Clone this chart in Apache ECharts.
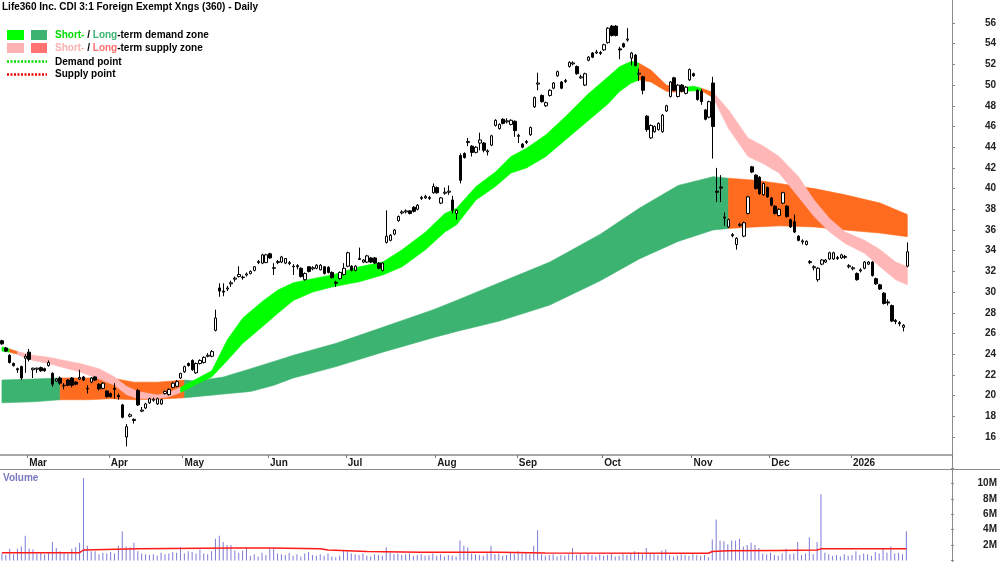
<!DOCTYPE html>
<html>
<head>
<meta charset="utf-8">
<title>Life360 Inc. CDI 3:1 Foreign Exempt Xngs (360) - Daily</title>
<script src="https://cdn.jsdelivr.net/npm/echarts@6/dist/echarts.min.js"></script>
<style>
  html, body { margin: 0; padding: 0; background: #fff; }
  #chart { width: 1000px; height: 562px; }
</style>
</head>
<body>
<div id="chart"></div>
<script>
// ---- data ----
var holidays = ['2025-04-18', '2025-04-21', '2025-04-25', '2025-06-09',
  '2025-12-25', '2025-12-26', '2026-01-01', '2026-01-26'];
var monthNames = ['Jan', 'Feb', 'Mar', 'Apr', 'May', 'Jun', 'Jul', 'Aug', 'Sep', 'Oct', 'Nov', 'Dec'];

var opens = [
  25.3, 24.6, 23.9, 23.1, 22.6, 22.8, 23.6, 24.2, 22.5, 22.55,
  22.7, 22.6, 22.9, 22.15, 21.4, 21.7, 21.0, 21.5, 21.7, 21.3,
  21.6, 21.8, 20.7, 21.3, 21.8, 21.1, 20.7, 20.45, 20.2, 20.7,
  20.0, 19.1, 16.0, 18.0, 17.7, 20.5, 18.5, 18.8, 19.3, 19.55,
  19.2, 19.2, 20.2, 20.1, 20.8, 20.9, 21.7, 22.3, 23.1, 23.4,
  22.2, 23.1, 23.2, 23.8, 23.8, 26.3, 30.4, 30.1, 30.3, 30.8,
  31.25, 31.5, 31.45, 31.65, 31.8, 32.1, 32.85, 32.8, 32.85, 33.7,
  32.35, 32.85, 32.9, 32.8, 32.75, 32.5, 32.55, 32.3, 31.2, 32.45,
  32.25, 32.3, 32.15, 32.45, 32.4, 31.9, 30.95, 31.3, 31.7, 32.5,
  32.5, 32.1, 33.15, 32.9, 32.9, 33.3, 33.3, 32.8, 32.1, 34.8,
  35.0, 35.6, 36.9, 37.65, 37.75, 37.85, 38.2, 38.0, 39.05, 39.1,
  39.05, 39.6, 40.1, 38.6, 39.55, 39.65, 38.9, 37.6, 43.2, 43.4,
  44.45, 44.1, 43.5, 44.4, 44.4, 43.55, 44.2, 46.1, 45.8, 46.7,
  46.45, 46.2, 46.5, 45.05, 44.3, 44.45, 45.2, 47.9, 50.1, 49.0,
  48.0, 49.0, 49.7, 50.9, 50.3, 50.35, 51.8, 52.05, 51.8, 50.7,
  50.0, 52.4, 53.1, 53.1, 53.05, 53.4, 54.1, 55.7, 55.7, 53.5,
  54.0, 54.35, 52.6, 52.9, 51.05, 50.8, 47.0, 44.9, 45.5, 45.7,
  45.5, 47.5, 48.9, 50.7, 48.9, 50.0, 49.2, 50.5, 51.1, 49.5,
  49.4, 47.6, 46.9, 50.2, 39.75, 40.15, 37.25, 36.3, 35.55, 34.6,
  36.45, 35.4, 37.6, 42.1, 41.3, 41.1, 39.4, 40.1, 39.1, 38.3,
  37.4, 38.6, 38.3, 37.0, 36.8, 35.4, 34.85, 34.6, 32.85, 32.35,
  31.2, 32.7, 32.9, 33.2, 33.2, 33.25, 33.3, 33.35, 32.45, 32.25,
  31.8, 32.05, 32.3, 32.7, 32.9, 31.3, 30.7, 29.9, 29.05, 28.7,
  27.25, 27.05, 26.6, 32.5
];
var closes = [
  25.0, 24.3, 23.2, 22.9, 22.5, 21.7, 23.8, 23.5, 22.65, 22.65,
  22.4, 22.4, 23.2, 21.1, 21.6, 21.2, 20.95, 21.0, 21.0, 21.1,
  21.75, 21.5, 20.65, 21.7, 21.5, 20.65, 21.2, 19.9, 19.9, 20.6,
  19.9, 17.9, 17.0, 18.15, 17.6, 19.1, 18.6, 19.2, 19.7, 19.65,
  19.7, 19.6, 20.4, 20.6, 21.2, 21.35, 22.15, 22.8, 22.9, 22.5,
  23.1, 23.4, 23.7, 23.9, 24.25, 27.5, 30.1, 30.0, 30.4, 30.9,
  31.35, 31.7, 31.4, 31.75, 32.0, 32.45, 32.95, 33.6, 33.6, 33.3,
  32.3, 32.95, 33.4, 33.25, 32.85, 32.45, 32.45, 31.5, 31.8, 32.0,
  32.35, 32.6, 32.6, 31.8, 31.9, 31.4, 30.85, 31.9, 32.3, 33.8,
  32.1, 32.5, 33.25, 33.1, 33.5, 32.9, 32.8, 32.3, 32.8, 35.4,
  35.5, 36.0, 37.3, 37.75, 37.85, 37.6, 37.8, 38.4, 39.15, 39.25,
  39.15, 40.2, 39.6, 39.1, 39.65, 39.75, 37.9, 37.9, 40.8, 43.0,
  44.55, 43.5, 44.0, 44.7, 43.7, 43.65, 45.1, 46.6, 46.2, 46.3,
  46.55, 46.6, 45.6, 45.15, 44.0, 44.55, 45.9, 48.8, 50.2, 48.4,
  48.3, 49.5, 50.2, 51.3, 49.7, 50.45, 52.2, 52.15, 51.1, 50.8,
  51.1, 52.7, 52.7, 53.2, 53.15, 53.9, 55.5, 54.8, 54.8, 53.4,
  53.7, 54.45, 53.1, 51.9, 51.15, 49.5, 45.7, 46.1, 46.0, 46.3,
  47.1, 48.0, 50.3, 49.5, 50.0, 49.4, 49.8, 51.5, 50.9, 48.6,
  48.4, 46.7, 48.4, 46.0, 39.65, 40.05, 37.15, 37.0, 35.45, 35.2,
  36.55, 36.7, 39.2, 41.6, 40.0, 39.5, 40.5, 39.2, 38.4, 37.6,
  38.0, 39.6, 37.3, 36.3, 35.8, 35.0, 34.95, 34.9, 32.95, 32.45,
  32.3, 33.1, 33.1, 33.8, 33.8, 33.35, 33.6, 33.45, 32.55, 32.35,
  31.2, 32.15, 32.9, 32.9, 31.6, 30.8, 30.3, 28.9, 28.95, 27.2,
  27.15, 26.95, 26.8, 33.9
];
var highs = [
  25.4, 24.7, 24.0, 23.2, 22.7, 22.9, 24.0, 24.5, 22.7, 22.7,
  22.8, 22.7, 23.4, 22.25, 21.7, 21.85, 21.2, 21.6, 21.8, 21.4,
  22.5, 21.9, 21.0, 21.8, 21.9, 21.2, 21.3, 20.5, 20.3, 21.2,
  20.2, 19.2, 17.25, 18.3, 17.8, 20.65, 18.9, 19.3, 19.8, 19.8,
  19.8, 19.7, 20.5, 20.7, 21.3, 21.5, 22.2, 22.9, 23.2, 23.5,
  23.2, 23.5, 23.8, 24.1, 24.4, 28.3, 30.85, 30.85, 30.6, 31.1,
  31.5, 32.5, 31.6, 31.9, 32.1, 32.5, 33.1, 33.7, 33.7, 33.8,
  32.8, 33.1, 33.5, 33.3, 33.0, 32.7, 32.7, 32.4, 31.9, 32.5,
  32.5, 32.7, 32.7, 32.5, 32.5, 32.0, 31.1, 32.0, 32.8, 33.9,
  32.6, 32.6, 34.3, 33.2, 33.6, 33.4, 33.4, 32.9, 32.9, 37.9,
  35.6, 36.1, 37.4, 37.9, 38.0, 37.9, 38.3, 38.5, 39.3, 39.4,
  39.3, 40.5, 40.2, 39.2, 40.1, 40.3, 39.3, 38.0, 43.4, 43.5,
  44.9, 44.2, 44.1, 45.4, 44.5, 43.8, 45.2, 46.7, 46.3, 46.8,
  46.8, 46.7, 46.6, 45.3, 44.4, 44.7, 46.0, 48.9, 51.2, 49.1,
  48.4, 49.6, 50.3, 51.4, 50.4, 50.6, 52.3, 52.3, 51.9, 51.0,
  51.2, 52.8, 53.2, 53.4, 53.3, 54.0, 55.6, 55.8, 55.8, 53.7,
  54.1, 55.5, 53.2, 53.0, 51.6, 50.9, 47.1, 46.2, 46.1, 46.4,
  47.2, 48.1, 50.4, 50.8, 50.1, 50.1, 49.9, 51.6, 51.2, 49.6,
  49.6, 47.7, 48.5, 50.8, 42.0, 41.3, 37.7, 37.1, 35.7, 35.3,
  36.7, 36.8, 39.3, 42.2, 41.4, 41.2, 40.6, 40.2, 39.2, 38.4,
  38.1, 39.7, 38.4, 37.1, 37.5, 35.5, 35.1, 35.0, 33.1, 32.6,
  32.4, 33.2, 33.2, 33.9, 33.9, 33.5, 33.7, 33.6, 32.7, 32.5,
  31.9, 32.3, 33.0, 33.0, 33.0, 31.4, 30.8, 30.0, 29.3, 28.8,
  27.4, 27.2, 26.9, 34.8
];
var lows = [
  24.9, 24.2, 23.1, 22.8, 22.2, 21.5, 22.2, 23.3, 21.7, 22.2,
  22.3, 22.3, 22.8, 20.85, 21.3, 21.05, 20.6, 20.9, 20.8, 21.0,
  21.5, 21.4, 20.2, 21.2, 21.4, 20.5, 20.6, 19.8, 19.8, 19.7,
  19.6, 17.8, 15.1, 17.9, 17.3, 19.0, 18.4, 18.7, 19.2, 19.4,
  19.1, 19.1, 20.1, 20.0, 20.7, 20.8, 21.6, 22.2, 22.8, 22.4,
  22.1, 23.0, 23.1, 23.7, 23.7, 26.2, 29.55, 29.6, 30.1, 30.5,
  31.0, 31.4, 31.2, 31.5, 31.7, 32.0, 32.7, 32.7, 32.8, 33.2,
  31.65, 32.7, 32.8, 32.7, 32.6, 31.65, 32.2, 31.4, 31.1, 31.9,
  32.1, 32.2, 32.1, 31.7, 31.8, 31.3, 30.5, 31.2, 31.6, 32.4,
  32.0, 32.0, 33.1, 32.8, 32.8, 32.8, 32.7, 32.2, 32.0, 34.7,
  34.9, 35.5, 36.8, 37.5, 37.6, 37.5, 37.7, 37.9, 38.9, 39.0,
  38.9, 39.5, 39.5, 38.5, 39.4, 39.4, 37.6, 37.0, 40.5, 42.9,
  44.1, 43.1, 43.4, 43.7, 43.5, 43.2, 44.1, 46.0, 45.7, 46.2,
  46.3, 46.1, 45.0, 44.4, 43.9, 44.3, 45.1, 47.8, 49.5, 48.3,
  47.9, 48.9, 49.6, 50.8, 49.6, 50.2, 51.7, 51.9, 51.0, 50.6,
  49.9, 52.3, 52.6, 53.0, 52.9, 53.3, 54.0, 54.7, 54.7, 52.5,
  53.6, 54.2, 51.9, 51.8, 50.4, 49.1, 45.5, 44.8, 45.4, 45.6,
  45.4, 47.4, 48.8, 49.4, 48.8, 49.3, 49.1, 50.4, 50.8, 48.5,
  48.1, 46.6, 46.8, 42.9, 38.7, 38.7, 36.4, 36.2, 35.3, 34.1,
  36.3, 35.3, 37.5, 41.5, 39.9, 39.4, 39.3, 39.1, 38.3, 37.5,
  37.3, 38.5, 37.2, 36.2, 35.7, 34.9, 34.6, 34.5, 32.7, 32.1,
  31.0, 32.6, 32.8, 33.1, 33.1, 33.1, 33.2, 33.2, 32.3, 32.1,
  31.1, 31.9, 32.2, 32.6, 31.5, 30.7, 30.2, 28.8, 28.7, 27.1,
  26.9, 26.7, 26.2, 32.4
];

// volume, millions of shares
var volumes = [
  0.9, 0.7, 1.5, 0.8, 1.5, 1.8, 3.2, 1.5, 1.4, 0.9,
  1.0, 0.8, 1.1, 2.4, 1.6, 1.2, 1.1, 0.9, 1.5, 1.7,
  2.3, 10.7, 1.9, 1.2, 1.2, 0.8, 1.0, 0.9, 1.1, 0.9,
  1.9, 3.8, 1.8, 1.7, 2.3, 1.2, 0.9, 0.8, 0.7, 0.8,
  0.6, 1.0, 0.8, 0.9, 1.1, 1.0, 1.7, 0.9, 1.2, 1.1,
  0.9, 1.4, 0.9, 0.8, 1.2, 2.8, 3.2, 2.4, 2.0, 2.0,
  1.3, 1.0, 1.3, 1.6, 0.6, 0.8, 0.5, 1.0, 0.7, 1.5,
  1.5, 0.9, 0.8, 0.7, 1.0, 0.6, 0.8, 0.5, 0.9, 1.1,
  0.7, 0.6, 0.8, 0.6, 0.9, 0.5, 0.4, 0.6, 1.3, 1.2,
  0.9, 0.8, 0.7, 0.9, 0.6, 0.5, 0.8, 0.7, 0.6, 1.7,
  1.0, 0.8, 0.9, 0.7, 0.8, 0.9, 0.6, 0.7, 0.8, 0.6,
  0.7, 0.9, 0.6, 0.8, 0.5, 0.7, 0.6, 0.5, 2.6, 1.9,
  1.7, 0.9, 0.8, 0.7, 0.6, 0.9, 1.9, 0.8, 0.9, 0.6,
  0.7, 1.1, 0.9, 1.2, 0.9, 1.0, 0.8, 1.9, 3.9, 0.8,
  0.6, 0.7, 0.8, 0.5, 0.7, 0.6, 0.8, 1.6, 0.7, 0.8,
  0.6, 0.9, 0.7, 0.5, 0.8, 0.6, 0.7, 0.9, 0.5, 0.6,
  0.8, 0.7, 0.9, 1.2, 1.1, 0.8, 1.6, 0.9, 0.8, 0.7,
  1.3, 1.4, 0.7, 0.5, 0.6, 0.8, 0.7, 0.6, 0.8, 0.7,
  0.6, 0.7, 0.4, 2.7, 5.3, 2.6, 2.5, 2.1, 2.6, 2.6,
  2.8, 1.8, 2.0, 2.3, 2.0, 1.6, 0.9, 0.8, 1.0, 0.7,
  0.6, 0.9, 1.5, 0.8, 0.9, 2.4, 0.7, 0.9, 3.0, 0.8,
  2.4, 8.6, 1.0, 0.8, 0.6, 0.7, 0.5, 0.8, 0.6, 0.7,
  1.2, 0.7, 0.9, 0.8, 0.6, 1.1, 0.9, 1.6, 1.0, 1.8,
  0.9, 1.0, 0.8, 3.8
];
// red volume average line: [day index, millions]
var volumeAvg = [[0, 1.0], [20, 1.0], [21, 1.35], [35, 1.5], [60, 1.6], [69, 1.6], [82, 1.5],
  [84, 1.35], [94, 1.15], [108, 1.05], [128, 1.05], [140, 0.95], [182, 0.93], [183, 1.15],
  [187, 1.25], [200, 1.3], [210, 1.35], [211, 1.5], [233, 1.5]];

// zones: [day index, upper edge, lower edge]
var longDemand1 = [[0, 21.5, 19.3], [8, 21.6, 19.4], [15, 21.7, 19.6]];
var longSupply1 = [[15, 21.7, 19.6], [22, 21.7, 19.6], [28, 21.7, 19.7], [34, 21.3, 19.6],
  [40, 21.3, 19.65], [47, 21.5, 19.8]];
var longDemand2 = [[47, 21.5, 19.8], [50, 21.4, 19.9], [57, 21.8, 20.15], [64, 22.6, 20.4],
  [70, 23.3, 21.0], [75, 23.9, 21.7], [86, 25.05, 22.8], [98, 26.6, 24.2], [111, 28.3, 25.6],
  [117, 29.2, 26.2], [128, 30.9, 27.2], [141, 32.9, 28.75], [154, 35.6, 31.1], [164, 38.1, 33.2],
  [174, 40.3, 34.9], [183, 41.15, 36.0], [187, 41.0, 36.15]];
var longSupply2 = [[187, 41.0, 36.15], [194, 40.8, 36.3], [200, 40.5, 36.4], [209, 40.0, 36.3],
  [217, 39.4, 36.0], [226, 38.6, 35.7], [233, 37.5, 35.35]];

var shortDemand1 = [[0, 24.7, 24.3], [2, 24.5, 24.2]];
var shortBoth1 = [[2, 24.5, 24.2], [4, 24.25, 24.0]];
var shortSupply1 = [[4, 24.25, 23.95], [8, 23.9, 23.4], [12, 23.7, 23.1], [16, 23.4, 22.7],
  [20, 23.1, 22.3], [25, 22.6, 21.6], [29, 21.8, 21.0], [32, 20.9, 20.1], [35, 20.4, 19.7],
  [40, 20.05, 19.7], [43, 20.3, 19.9], [46, 20.8, 20.3]];
var shortDemand2 = [[46, 20.8, 20.3], [50, 21.6, 21.1], [54, 22.4, 21.8], [58, 25.4, 23.4],
  [62, 27.5, 25.05], [67, 29.1, 26.65], [71, 30.2, 27.95], [75, 30.9, 29.2], [80, 31.3, 30.0],
  [85, 31.65, 30.5], [92, 32.45, 31.0], [98, 32.9, 31.65], [103, 34.1, 32.45], [109, 35.8, 34.1],
  [114, 37.6, 35.8], [117, 38.1, 36.5], [122, 40.2, 38.9], [127, 41.6, 40.2], [131, 43.1, 41.5],
  [135, 43.9, 42.0], [140, 45.2, 43.1], [145, 46.95, 44.7], [151, 49.2, 46.6], [156, 50.8, 48.2],
  [159, 51.8, 49.4], [162, 52.3, 50.2], [164, 52.1, 50.5]];
var shortBoth2 = [[164, 52.1, 50.5], [167, 51.45, 50.3], [171, 50.0, 49.4], [174, 49.7, 49.3],
  [176, 49.8, 49.4]];
var shortDemand3 = [[176, 49.8, 49.4], [178, 49.9, 49.45], [180, 49.7, 49.45]];
var shortBoth3 = [[180, 49.7, 49.45], [183, 49.3, 48.8]];
var shortSupply2 = [[183, 49.3, 48.8], [187, 47.6, 45.8], [192, 44.9, 43.1], [196, 44.1, 42.4],
  [200, 43.1, 41.5], [205, 41.15, 39.2], [209, 38.9, 37.3], [213, 37.1, 35.8], [217, 35.8, 34.7],
  [222, 35.0, 33.75], [226, 34.1, 32.45], [230, 32.9, 31.2], [233, 32.45, 30.7]];

// ---- calendar of trading days (ASX), 11 empty days after the last bar ----
function tradingDays(start, count) {
  var out = [];
  var d = new Date(start + 'T00:00:00Z');
  while (out.length < count) {
    var s = d.toISOString().slice(0, 10);
    var wd = d.getUTCDay();
    if (wd !== 0 && wd !== 6 && holidays.indexOf(s) < 0) out.push(s);
    d.setUTCDate(d.getUTCDate() + 1);
  }
  return out;
}
var dates = tradingDays('2025-02-20', opens.length + 11);

// month ticks only where there are bars
function isMonthStart(i) {
  return i > 0 && i < opens.length && dates[i].slice(5, 7) !== dates[i - 1].slice(5, 7);
}
function monthLabel(value) {
  var m = +value.slice(5, 7);
  return m === 1 ? value.slice(0, 4) : monthNames[m - 1];
}

var candles = opens.map(function (o, i) {
  return [o, closes[i], lows[i], highs[i]];
});

var FONT = '"Liberation Sans", Arial, sans-serif';
var GREEN = '#00ff00', DKGREEN = '#3cb371', PINK = '#ffb6b6', ORANGE = '#ff6b1f';

function zone(points, color, z) {
  return {
    type: 'custom',
    xAxisIndex: 0,
    yAxisIndex: 0,
    z: z,
    silent: true,
    clip: true,
    data: [[points[0][0], points[0][1]]],
    renderItem: function (params, api) {
      var upper = points.map(function (p) { return api.coord([p[0], p[1]]); });
      var lower = points.slice().reverse().map(function (p) { return api.coord([p[0], p[2]]); });
      return {
        type: 'polygon',
        shape: { points: upper.concat(lower) },
        style: { fill: color, stroke: color, lineWidth: 0.6 }
      };
    }
  };
}

var chart = echarts.init(document.getElementById('chart'));

chart.setOption({
  animation: false,
  backgroundColor: '#fff',
  grid: [
    { left: 0, right: 48, top: 2.3, height: 455.4 },
    { left: 0, right: 48, top: 468, height: 92.4 }
  ],
  xAxis: [
    {
      type: 'category',
      gridIndex: 0,
      data: dates,
      boundaryGap: true,
      offset: -2.7,
      axisLine: { show: false },
      axisTick: {
        show: true,
        interval: function (i) { return isMonthStart(i); },
        length: 3,
        lineStyle: { color: '#777' }
      },
      axisLabel: {
        interval: function (i) { return isMonthStart(i); },
        formatter: monthLabel,
        align: 'left',
        margin: 3,
        fontSize: 10,
        fontWeight: 'bold',
        fontFamily: FONT,
        color: '#1a1a1a'
      },
      splitLine: { show: false }
    },
    {
      type: 'category',
      gridIndex: 1,
      data: dates,
      boundaryGap: true,
      axisLine: { show: false },
      axisTick: { show: false },
      axisLabel: { show: false },
      splitLine: { show: false }
    }
  ],
  yAxis: [
    {
      type: 'value',
      gridIndex: 0,
      position: 'right',
      min: 14,
      max: 58,
      interval: 2,
      axisLine: { show: false },
      axisTick: { show: true, length: 3, lineStyle: { color: '#888' } },
      axisLabel: {
        showMinLabel: false,
        showMaxLabel: false,
        align: 'right',
        margin: 44,
        fontSize: 10,
        fontWeight: 'bold',
        fontFamily: FONT,
        color: '#222'
      },
      splitLine: { show: false }
    },
    {
      type: 'value',
      gridIndex: 1,
      position: 'right',
      min: 0,
      max: 12,
      interval: 2,
      axisLine: { show: false },
      axisTick: { show: true, length: 3, lineStyle: { color: '#888' } },
      axisLabel: {
        formatter: function (v) { return (v === 0 || v === 12) ? '' : v + 'M'; },
        align: 'right',
        margin: 46,
        fontSize: 10,
        fontWeight: 'bold',
        fontFamily: FONT,
        color: '#222'
      },
      splitLine: { show: false }
    }
  ],
  series: [
    zone(longDemand1, DKGREEN, 1),
    zone(longSupply1, ORANGE, 1),
    zone(longDemand2, DKGREEN, 1),
    zone(longSupply2, ORANGE, 1),
    zone(shortDemand1, GREEN, 2),
    zone(shortBoth1, ORANGE, 2),
    zone(shortSupply1, PINK, 2),
    zone(shortDemand2, GREEN, 2),
    zone(shortBoth2, ORANGE, 2),
    zone(shortDemand3, GREEN, 2),
    zone(shortBoth3, ORANGE, 2),
    zone(shortSupply2, PINK, 2),
    {
      type: 'candlestick',
      xAxisIndex: 0,
      yAxisIndex: 0,
      data: candles,
      barWidth: 3,
      z: 5,
      silent: true,
      itemStyle: {
        color: '#ffffff',
        color0: '#000000',
        borderColor: '#000000',
        borderColor0: '#000000',
        borderColorDoji: '#000000',
        borderWidth: 1
      }
    },
    {
      type: 'bar',
      xAxisIndex: 1,
      yAxisIndex: 1,
      data: volumes,
      barWidth: 1,
      silent: true,
      itemStyle: { color: '#7c7cd6' }
    },
    {
      type: 'line',
      xAxisIndex: 1,
      yAxisIndex: 1,
      data: volumeAvg,
      symbol: 'none',
      silent: true,
      z: 4,
      lineStyle: { color: '#ff1a1a', width: 1.5 }
    }
  ],
  graphic: [
    { type: 'line', shape: { x1: 0, y1: 455, x2: 952, y2: 455 }, style: { stroke: '#a8a8a8', lineWidth: 2 } },
    { type: 'line', shape: { x1: 0, y1: 469.5, x2: 1000, y2: 469.5 }, style: { stroke: '#8a8a8a', lineWidth: 1 } },
    { type: 'line', shape: { x1: 952.5, y1: 0, x2: 952.5, y2: 562 }, style: { stroke: '#8a8a8a', lineWidth: 1 } },
    {
      type: 'text', x: 2, y: 7,
      style: { text: 'Life360 Inc. CDI 3:1 Foreign Exempt Xngs (360) - Daily', font: 'bold 10px ' + FONT, fill: '#000', verticalAlign: 'middle' }
    },
    { type: 'rect', shape: { x: 7, y: 30, width: 17, height: 10 }, style: { fill: GREEN } },
    { type: 'rect', shape: { x: 31, y: 30, width: 16, height: 10 }, style: { fill: DKGREEN } },
    { type: 'rect', shape: { x: 7, y: 43, width: 17, height: 10 }, style: { fill: '#ffb3b3' } },
    { type: 'rect', shape: { x: 31, y: 43, width: 16, height: 10 }, style: { fill: '#ff7373' } },
    {
      type: 'text', x: 55, y: 35,
      style: {
        text: '{a|Short-} / {b|Long}-term demand zone',
        font: 'bold 10px ' + FONT, fill: '#000', verticalAlign: 'middle',
        rich: {
          a: { fill: '#00dd00', fontWeight: 'bold', fontSize: 10, fontFamily: FONT },
          b: { fill: DKGREEN, fontWeight: 'bold', fontSize: 10, fontFamily: FONT }
        }
      }
    },
    {
      type: 'text', x: 55, y: 48,
      style: {
        text: '{a|Short-} / {b|Long}-term supply zone',
        font: 'bold 10px ' + FONT, fill: '#000', verticalAlign: 'middle',
        rich: {
          a: { fill: '#ffb0b0', fontWeight: 'bold', fontSize: 10, fontFamily: FONT },
          b: { fill: '#ff6e6e', fontWeight: 'bold', fontSize: 10, fontFamily: FONT }
        }
      }
    },
    { type: 'line', shape: { x1: 7, y1: 61.5, x2: 47, y2: 61.5 }, style: { stroke: '#00dd00', lineWidth: 2.5, lineDash: [2, 1.5] } },
    { type: 'line', shape: { x1: 7, y1: 74.5, x2: 47, y2: 74.5 }, style: { stroke: '#ee0000', lineWidth: 2.5, lineDash: [2, 1.5] } },
    { type: 'text', x: 55, y: 62, style: { text: 'Demand point', font: 'bold 10px ' + FONT, fill: '#000', verticalAlign: 'middle' } },
    { type: 'text', x: 55, y: 74.5, style: { text: 'Supply point', font: 'bold 10px ' + FONT, fill: '#000', verticalAlign: 'middle' } },
    { type: 'text', x: 3, y: 478.5, style: { text: 'Volume', font: 'bold 10px ' + FONT, fill: '#7878c0', verticalAlign: 'middle' } }
  ]
});
</script>
</body>
</html>
